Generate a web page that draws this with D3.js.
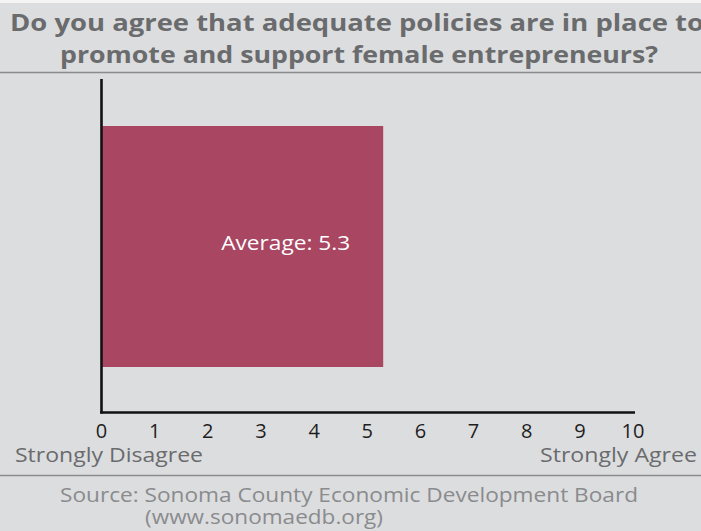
<!DOCTYPE html>
<html>
<head>
<meta charset="utf-8">
<script src="https://cdn.jsdelivr.net/npm/d3@7"></script>
<style>
  body { margin: 0; background: #fff; }
  svg { display: block; }
  text { font-family: "Open Sans", Lato, sans-serif; }
</style>
</head>
<body>
<svg width="701" height="531"></svg>
<script>
const titleLines = ["Do you agree that adequate policies are in place to",
                    "promote and support female entrepreneurs?"];
const sourceLines = ["Source: Sonoma County Economic Development Board",
                     "(www.sonomaedb.org)"];
const ticks = [0, 1, 2, 3, 4, 5, 6, 7, 8, 9, 10];
const endLabels = ["Strongly Disagree", "Strongly Agree"];
const average = 5.3;

const W = 701, H = 531;
const svg = d3.select("svg");

// the original face is wide (Gotham-like), so stretch texts to its widths
function fit(sel, width) {
    sel.attr("textLength", width).attr("lengthAdjust", "spacingAndGlyphs");
}

svg.append("rect").attr("width", W).attr("height", H).attr("fill", "#dcdddf");
svg.append("rect").attr("width", W).attr("height", 3).attr("fill", "#f4f4f5");

// title
const titlePos = [{x: 357, w: 694}, {x: 359, w: 598}];
svg.selectAll("text.title")
    .data(titleLines)
    .join("text")
      .attr("class", "title")
      .attr("x", (d, i) => titlePos[i].x)
      .attr("y", (d, i) => 31 + i * 32)
      .attr("text-anchor", "middle")
      .attr("font-size", 24)
      .attr("font-weight", "bold")
      .attr("fill", "#6a6b6d")
      .attr("textLength", (d, i) => titlePos[i].w)
      .attr("lengthAdjust", "spacingAndGlyphs")
      .text(d => d);

svg.append("line").attr("x1", 0).attr("x2", W).attr("y1", 72.5).attr("y2", 72.5)
   .attr("stroke", "#8a8b8d").attr("stroke-width", 1.5);
svg.append("line").attr("x1", 0).attr("x2", W).attr("y1", 475.5).attr("y2", 475.5)
   .attr("stroke", "#8a8b8d").attr("stroke-width", 1.5);

const x = d3.scaleLinear().domain([0, 10]).range([101.5, 633]);
const barTop = 126, barBottom = 367;

svg.append("rect")
    .attr("x", x(0))
    .attr("y", barTop)
    .attr("width", x(average) - x(0))
    .attr("height", barBottom - barTop)
    .attr("fill", "#a94662");

// label sits right of the bar's centre in the original
svg.append("text")
    .attr("x", x(average) - 162)
    .attr("y", 250)
    .attr("font-size", 20)
    .attr("fill", "#fff")
    .text("Average: " + average)
    .call(fit, 129);

// axes
svg.append("line").attr("x1", x(0)).attr("x2", x(0)).attr("y1", 79).attr("y2", 413.5)
   .attr("stroke", "#111").attr("stroke-width", 2.6);
svg.append("line").attr("x1", x(0) - 1.3).attr("x2", 635).attr("y1", 412.5).attr("y2", 412.5)
   .attr("stroke", "#111").attr("stroke-width", 2.6);

svg.selectAll("text.tick")
    .data(ticks)
    .join("text")
      .attr("class", "tick")
      .attr("x", d => x(d))
      .attr("y", 438)
      .attr("text-anchor", "middle")
      .attr("font-size", 20)
      .attr("fill", "#1e1e1e")
      .text(d => d);

svg.append("text").attr("x", 15).attr("y", 462).attr("font-size", 20)
   .attr("fill", "#6a6b6d").text(endLabels[0]).call(fit, 188);
svg.append("text").attr("x", 540).attr("y", 462).attr("font-size", 20)
   .attr("fill", "#6a6b6d").text(endLabels[1]).call(fit, 157);

const sourcePos = [{x: 349, w: 578}, {x: 264, w: 238}];
svg.selectAll("text.source")
    .data(sourceLines)
    .join("text")
      .attr("class", "source")
      .attr("x", (d, i) => sourcePos[i].x)
      .attr("y", (d, i) => 502 + i * 22)
      .attr("text-anchor", "middle")
      .attr("font-size", 19.5)
      .attr("fill", "#8a8b8d")
      .attr("textLength", (d, i) => sourcePos[i].w)
      .attr("lengthAdjust", "spacingAndGlyphs")
      .text(d => d);
</script>
</body>
</html>
